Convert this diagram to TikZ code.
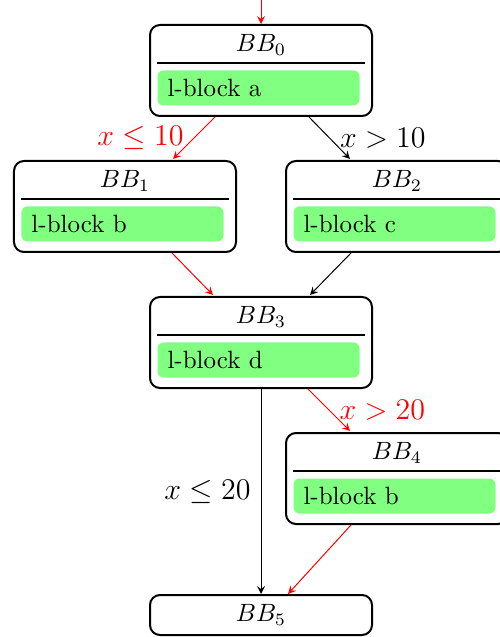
\documentclass[tikz,border=0pt]{standalone}
\usetikzlibrary{calc}
\begin{document}
\begin{tikzpicture}[x=0.4pt,y=-0.4pt,
  bbbox/.style={draw,line width=0.8pt,rounded corners=4pt,minimum width=88.8pt,minimum height=36.4pt,inner sep=0pt},
  bbend/.style={draw,line width=0.8pt,rounded corners=4pt,minimum width=88.8pt,minimum height=16pt,inner sep=0pt},
  hdr/.style={inner sep=0pt},
  rulel/.style={line width=0.8pt},
  blk/.style={anchor=north west,fill=green!50,rounded corners=2.4pt,text width=72.8pt,align=left,inner xsep=4pt,inner ysep=0pt,minimum height=14pt},
  edg/.style={-stealth,line width=0.4pt},
  redg/.style={edg,red},
  lab/.style={font=\large,inner sep=4pt}]
\useasboundingbox (0,0) rectangle (499,637);
\newcommand\mkbb[5]{%
  \node[bbbox] (#1) at (#2) {};
  \node[hdr] (#1h) at ($(#1.north)+(0,21)$) {$BB_{#3}$};
  \draw[rulel] ($(#1.north west)+(8,39)$) -- ($(#1.north east)+(-8,39)$);
  \node[blk] (#1b) at ($(#1.north west)+(8,46)$) {#4};
}
\mkbb{bb0}{261,70.5}{0}{l-block a}{}
\mkbb{bb1}{125,206.5}{1}{l-block b}{}
\mkbb{bb2}{397,206.5}{2}{l-block c}{}
\mkbb{bb3}{261,342.5}{3}{l-block d}{}
\mkbb{bb4}{397,478.5}{4}{l-block b}{}
\node[bbend] (bb5) at (261,615) {$BB_5$};
\coordinate (entry) at (261,0);
\draw[redg] (entry) -- (bb0.north);
\draw[redg] ($(bb0.south)+(-46,0)$) -- node[lab,midway,left,text=red] {$x\leq 10$} ($(bb1.north)+(48,-1)$);
\draw[edg] ($(bb0.south)+(48,0)$) -- node[lab,midway,right] {$x>10$} ($(bb2.north)+(-47,-1)$);
\draw[redg] ($(bb1.south)+(47,0)$) -- ($(bb3.north)+(-48,-1)$);
\draw[edg] ($(bb2.south)+(-46,0)$) -- ($(bb3.north)+(49,-1)$);
\draw[edg] (bb3.south) -- node[lab,midway,left] {$x\leq 20$} (bb5.north);
\draw[redg] ($(bb3.south)+(47,0)$) -- node[lab,midway,right,text=red] {$x>20$} ($(bb4.north)+(-47,-1)$);
\draw[redg] ($(bb4.south)+(-46,0)$) -- ($(bb5.north)+(27,0)$);
\end{tikzpicture}
\end{document}
